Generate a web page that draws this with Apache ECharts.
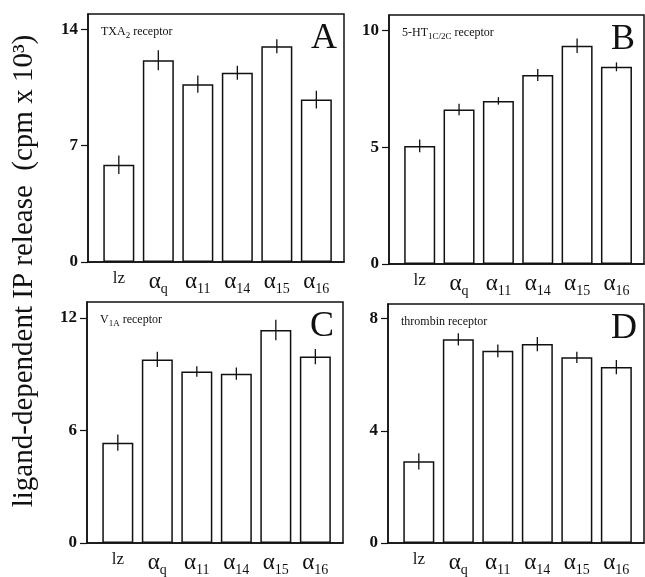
<!DOCTYPE html>
<html>
<head>
<meta charset="utf-8">
<script src="https://cdn.jsdelivr.net/npm/echarts@6/dist/echarts.min.js"></script>
<style>
  html, body { margin: 0; padding: 0; background: #fff; }
  #chart { width: 645px; height: 577px; }
</style>
</head>
<body>
<div id="chart"></div>
<script>
// categories (lacZ control + G alpha subunits)
const categories = ['lz', 'αq', 'α11', 'α14', 'α15', 'α16']

// panel A: TXA2 receptor
const valuesA = [5.85, 12.14, 10.7, 11.38, 12.98, 9.77]
const errorsA = [0.55, 0.6, 0.52, 0.42, 0.42, 0.54]
const ticksA = [0, 7, 14]
// panel B: 5-HT1C/2C receptor
const valuesB = [5.06, 6.62, 6.99, 8.1, 9.35, 8.45]
const errorsB = [0.27, 0.25, 0.16, 0.26, 0.31, 0.19]
const ticksB = [0, 5, 10]
// panel C: V1A receptor
const valuesC = [5.35, 9.79, 9.15, 9.03, 11.36, 9.94]
const errorsC = [0.43, 0.41, 0.28, 0.33, 0.55, 0.41]
const ticksC = [0, 6, 12]
// panel D: thrombin receptor
const valuesD = [2.91, 7.26, 6.85, 7.09, 6.62, 6.27]
const errorsD = [0.29, 0.22, 0.23, 0.25, 0.2, 0.25]
const ticksD = [0, 4, 8]

const serif = "'Liberation Serif', 'DejaVu Serif', serif"

const panels = [
  { values: valuesA, errors: errorsA, ticks: ticksA, yMax: 14.92, letter: 'A',
    name: '{n|TXA}{s|2}{n| receptor}',
    grid: { left: 88, top: 14, width: 256, height: 248 } },
  { values: valuesB, errors: errorsB, ticks: ticksB, yMax: 10.67, letter: 'B',
    name: '{n|5-HT}{s|1C/2C}{n| receptor}',
    grid: { left: 389, top: 15, width: 255, height: 249 } },
  { values: valuesC, errors: errorsC, ticks: ticksC, yMax: 12.85, letter: 'C',
    name: '{n|V}{s|1A}{n| receptor}',
    grid: { left: 87, top: 302, width: 256, height: 250 } },
  { values: valuesD, errors: errorsD, ticks: ticksD, yMax: 8.52, letter: 'D',
    name: '{n|thrombin receptor}',
    grid: { left: 388, top: 304, width: 256, height: 249 } }
]

const catIndex = categories.map((c, i) => i)

function catLabel(v) {
  const c = categories[Math.round(v)]
  if (c === undefined) return ''
  if (c.charAt(0) === 'α') return '{a|α}{s|' + c.slice(1) + '}'
  return '{l|' + c + '}'
}

const grids = []
const xAxes = []
const yAxes = []
const series = []
const titles = []

panels.forEach((p, k) => {
  grids.push(Object.assign({ show: true, borderColor: '#111', borderWidth: 1.5 }, p.grid))
  xAxes.push({
    type: 'value', gridIndex: k, min: -0.78, max: 5.7,
    splitLine: { show: false }, axisTick: { show: false },
    axisLine: { show: true, onZero: false, lineStyle: { color: '#111', width: 1.5 } },
    axisLabel: {
      customValues: catIndex,
      formatter: catLabel,
      margin: 8,
      rich: {
        a: { fontFamily: serif, fontSize: 23, lineHeight: 26, color: '#111', verticalAlign: 'top' },
        s: { fontFamily: serif, fontSize: 14, lineHeight: 10, color: '#111', verticalAlign: 'bottom' },
        l: { fontFamily: serif, fontSize: 17, lineHeight: 26, color: '#111', verticalAlign: 'top' }
      }
    }
  })
  yAxes.push({
    type: 'value', gridIndex: k, min: 0, max: p.yMax,
    splitLine: { show: false },
    axisLine: { show: true, onZero: false, lineStyle: { color: '#111', width: 1.5 } },
    axisTick: { show: true, length: 7, customValues: p.ticks, lineStyle: { color: '#111', width: 1.2 } },
    axisLabel: { customValues: p.ticks, margin: 10, fontFamily: serif, fontSize: 17, fontWeight: 'bold', color: '#111' }
  })
  series.push({
    type: 'bar', xAxisIndex: k, yAxisIndex: k, barWidth: 31,
    data: p.values.map((v, i) => [i, v]),
    itemStyle: { color: '#fff', borderColor: '#111', borderWidth: 1.5 },
    silent: true
  })
  series.push({
    type: 'custom', xAxisIndex: k, yAxisIndex: k,
    data: p.values.map((v, i) => [i, v, p.errors[i]]),
    renderItem: (params, api) => {
      const x = api.value(0)
      const v = api.value(1)
      const e = api.value(2)
      const lo = api.coord([x, v - e])
      const hi = api.coord([x, v + e])
      return {
        type: 'line',
        shape: { x1: lo[0], y1: lo[1], x2: hi[0], y2: hi[1] },
        style: { stroke: '#111', lineWidth: 1.3 }
      }
    },
    silent: true,
    z: 5
  })
  titles.push({
    text: p.name,
    left: p.grid.left + 8, top: p.grid.top + 7,
    textStyle: {
      fontWeight: 'normal',
      rich: {
        n: { fontFamily: serif, fontSize: 12, fontWeight: 'normal', lineHeight: 14, color: '#111', verticalAlign: 'top' },
        s: { fontFamily: serif, fontSize: 9, fontWeight: 'normal', lineHeight: 8, color: '#111', verticalAlign: 'bottom' }
      }
    }
  })
  titles.push({
    text: p.letter,
    left: p.grid.left + p.grid.width - 38, top: p.grid.top + 2,
    textStyle: { fontFamily: serif, fontSize: 36, fontWeight: 'normal', color: '#111' }
  })
})

const chart = echarts.init(document.getElementById('chart'))
chart.setOption({
  backgroundColor: '#fff',
  animation: false,
  title: titles,
  grid: grids,
  xAxis: xAxes,
  yAxis: yAxes,
  series: series,
  graphic: [{
    type: 'text',
    x: 24, y: 271,
    rotation: Math.PI / 2,
    style: {
      text: 'ligand-dependent IP release  (cpm x 10³)',
      fontFamily: serif, fontSize: 29, fill: '#111',
      align: 'center', verticalAlign: 'middle'
    }
  }]
})
</script>
</body>
</html>
